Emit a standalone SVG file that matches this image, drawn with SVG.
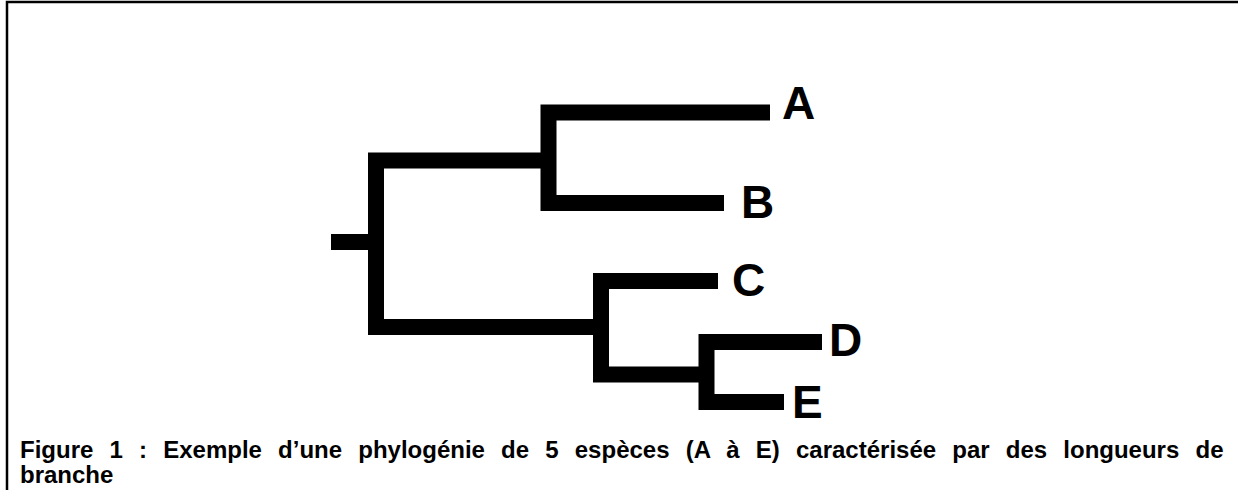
<svg xmlns="http://www.w3.org/2000/svg" width="1238" height="490" viewBox="0 0 1238 490">
<style>
.br{fill:none;stroke:#000;stroke-width:16;stroke-linejoin:miter;stroke-linecap:butt}
.lab{font-family:"Liberation Sans",Arial,sans-serif;font-weight:bold;font-size:46px;fill:#000}
.cap{font-family:"Liberation Sans",Arial,sans-serif;font-weight:bold;font-size:24px;fill:#000}
</style>
<rect width="1238" height="490" fill="#fff"/>
<path d="M7,490 V2 H1238" fill="none" stroke="#000" stroke-width="2.5"/>
<g id="connectors">
<path class="br" d="M331,242 H376"/>
<path class="br" d="M548.5,160.5 H376 V327 H601"/>
<path class="br" d="M770,112.5 H548.5 V203 H724"/>
<path class="br" d="M718,281 H601 V374.5 H706.5"/>
<path class="br" d="M822,342 H706.5 V402 H784"/>
</g>
<g id="node-A"><text class="lab" x="782" y="119">A</text></g>
<g id="node-B"><text class="lab" x="741" y="218">B</text></g>
<g id="node-C"><text class="lab" x="732" y="296">C</text></g>
<g id="node-D"><text class="lab" x="829" y="356">D</text></g>
<g id="node-E"><text class="lab" x="792" y="418">E</text></g>
<g id="caption">
<text class="cap" x="20" y="458" word-spacing="9.5">Figure 1 : Exemple d’une phylogénie de 5 espèces (A à E) caractérisée par des longueurs de</text>
<text class="cap" x="20" y="483">branche</text>
</g>
</svg>
